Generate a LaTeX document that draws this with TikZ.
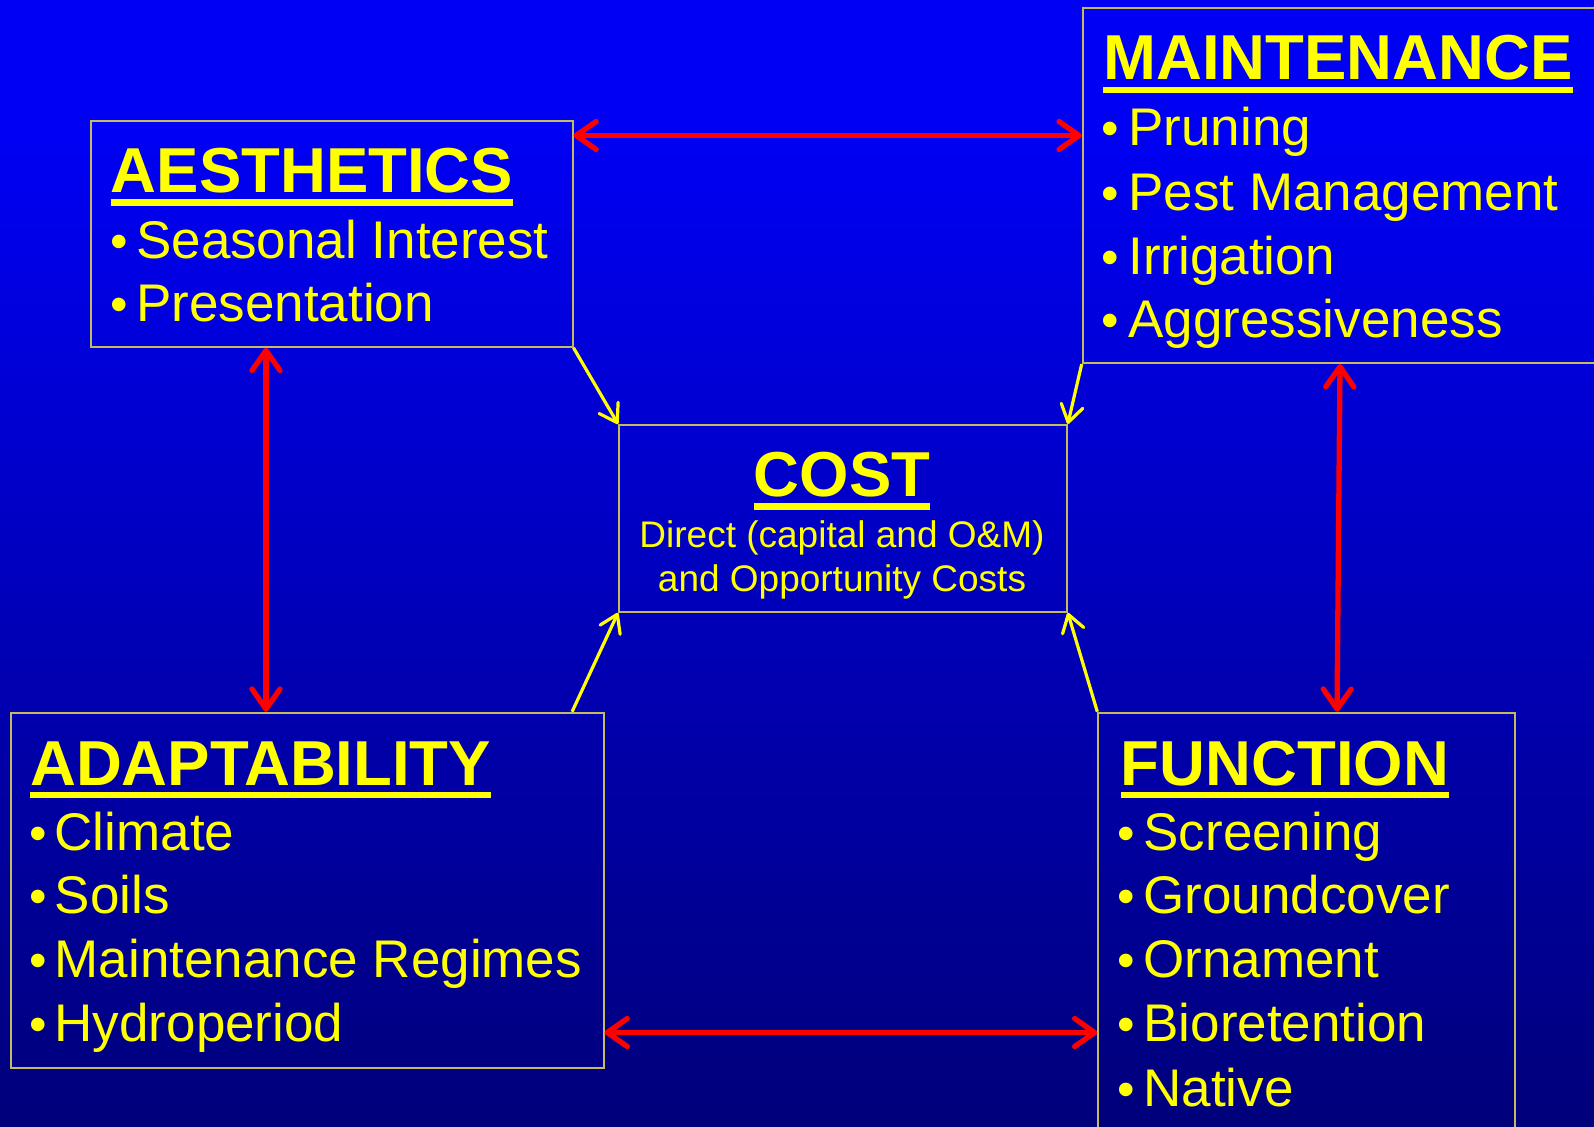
\documentclass[tikz,border=0pt]{standalone}
\usepackage{fontspec}
\setmainfont{Liberation Sans}
\usetikzlibrary{arrows.meta,calc}
\definecolor{bgtop}{RGB}{0,0,242}
\definecolor{bgbot}{RGB}{0,0,122}
\definecolor{ylw}{RGB}{255,255,0}
\definecolor{boxline}{RGB}{196,186,96}
\definecolor{arrred}{RGB}{255,0,0}
\pgfdeclareverticalshading{bgshade}{100bp}{color(0bp)=(bgbot); color(25bp)=(bgbot); color(68.3bp)=(bgtop); color(100bp)=(bgtop)}
\newcommand{\bitem}[5]{\node[bul] (#1b) at (#2,#4) {•}; \node[itxt] (#1) at (#3,#4) {#5};}
\begin{document}
\begin{tikzpicture}[x=1pt,y=-1pt,
  box/.style={draw=boxline, line width=1.8pt, inner sep=0pt, anchor=north west},
  ttl/.style={anchor=base west, inner sep=0pt, text=ylw, font=\fontsize{63.5}{70}\selectfont\bfseries},
  ul/.style={draw=ylw, line width=6.5pt},
  itxt/.style={anchor=base west, inner sep=0pt, text=ylw, font=\fontsize{53}{60}\selectfont},
  bul/.style={anchor=base, inner sep=0pt, text=ylw, font=\fontsize{50}{60}\selectfont},
  sub/.style={anchor=base, inner sep=0pt, text=ylw, font=\fontsize{37}{42}\selectfont},
  redarr/.style={draw=arrred, line width=5.3pt, arrows={Straight Barb[length=20pt,width=28pt,round]-Straight Barb[length=20pt,width=28pt,round]}},
  yarr/.style={draw=ylw, line width=3.2pt, arrows={-Straight Barb[length=17pt,width=22pt,round]}}
]
\useasboundingbox (0,0) rectangle (1594,1126);
\shade[shading=bgshade] (0,0) rectangle (1594,1126);
\clip (0,0) rectangle (1594,1126);

% boxes
\node[box, minimum width=481.7pt, minimum height=226pt] (aes) at (90,120) {};
\node[box, minimum width=560pt, minimum height=355pt] (main) at (1081.7,7.3) {};
\node[box, minimum width=448pt, minimum height=187pt] (cost) at (618,424) {};
\node[box, minimum width=592.8pt, minimum height=355.7pt] (adapt) at (10,711.7) {};
\node[box, minimum width=416.7pt, minimum height=450pt] (func) at (1097.3,711.7) {};

% titles
\node[ttl] (aesT) at (110.7,192.3) {AESTHETICS};
\node[ttl] (mainT) at (1103.3,80) {MAINTENANCE};
\node[ttl] (adaptT) at (30,785) {ADAPTABILITY};
\node[ttl] (funcT) at (1120.7,785) {FUNCTION};
\node[ttl, anchor=base] (costT) at (842,496.7) {COST};
\foreach \t in {aesT,mainT,adaptT,funcT,costT}{
  \draw[ul] ($(\t.base west)+(0,10)$) -- ($(\t.base east)+(0,10)$);
}

% cost text
\node[sub] (c1) at (842,547.3) {Direct (capital and O\&M)};
\node[sub] (c2) at (842,591.7) {and Opportunity Costs};

% items
\bitem{aes1}{119}{136}{258.3}{Seasonal Interest}
\bitem{aes2}{119}{136}{321.7}{Presentation}
\bitem{mn1}{1110.7}{1128.3}{146}{Pruning}
\bitem{mn2}{1110.7}{1128.3}{210}{Pest Management}
\bitem{mn3}{1110.7}{1128.3}{274}{Irrigation}
\bitem{mn4}{1110.7}{1128.3}{337.7}{Aggressiveness}
\bitem{ad1}{38.4}{54.5}{850}{Climate}
\bitem{ad2}{38.4}{54.5}{913.3}{Soils}
\bitem{ad3}{38.4}{54.5}{977.7}{Maintenance Regimes}
\bitem{ad4}{38.4}{54.5}{1041.7}{Hydroperiod}
\bitem{fn1}{1126.7}{1143.3}{850}{Screening}
\bitem{fn2}{1126.7}{1143.3}{913.3}{Groundcover}
\bitem{fn3}{1126.7}{1143.3}{977.7}{Ornament}
\bitem{fn4}{1126.7}{1143.3}{1041.7}{Bioretention}
\bitem{fn5}{1126.7}{1143.3}{1106}{Native}

% red double arrows
\coordinate (t1) at ($(aes.north east)+(0,15.5)$);
\draw[redarr] (t1) -- (t1 -| main.west);
\coordinate (l1) at ($(aes.south west)+(176,0)$);
\draw[redarr] (l1) -- (l1 |- adapt.north);
\coordinate (r1) at ($(main.south west)+(258.3,0)$);
\coordinate (r2) at ($(func.north west)+(239.7,0)$);
\draw[redarr] (r1) -- (r2);
\coordinate (b1) at ($(adapt.north east)+(0,320.8)$);
\draw[redarr] (b1) -- (b1 -| func.west);

% yellow arrows to cost
\draw[yarr] (aes.south east) -- (cost.north west);
\draw[yarr] (main.south west) -- (cost.north east);
\coordinate (a1) at ($(adapt.north east)+(-32.5,0)$);
\draw[yarr] (a1) -- (cost.south west);
\draw[yarr] (func.north west) -- (cost.south east);
\end{tikzpicture}
\end{document}
